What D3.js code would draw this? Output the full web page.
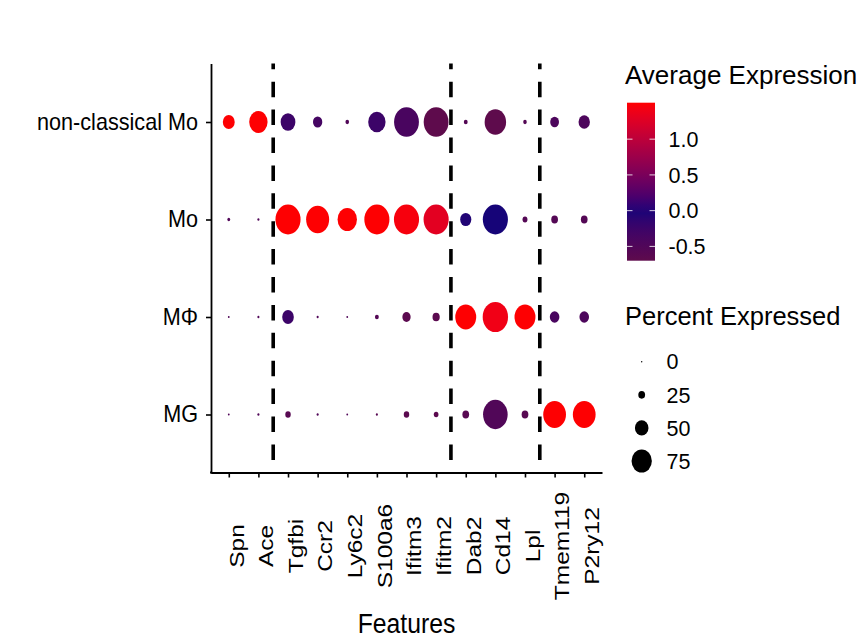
<!DOCTYPE html>
<html>
<head>
<meta charset="utf-8">
<script src="https://cdn.jsdelivr.net/npm/d3@7"></script>
<style>
  html, body { margin: 0; padding: 0; background: #ffffff; }
  svg { display: block; font-family: "Liberation Sans", Arial, Helvetica, sans-serif; }
</style>
</head>
<body>
<svg id="chart" width="860" height="640"></svg>
<script>
// ---------------- data ----------------
const genes = ["Spn","Ace","Tgfbi","Ccr2","Ly6c2","S100a6","Ifitm3","Ifitm2","Dab2","Cd14","Lpl","Tmem119","P2ry12"];
const cellTypes = ["non-classical Mo","Mo","MΦ","MG"];

// Percent expressed per cell type (same order as genes)
const pctNcMo = [46, 71, 57, 36, 14, 67, 96, 96, 15, 83, 14, 34, 44];
const pctMo   = [11,  8, 97, 89, 75, 97, 97, 97, 43, 97, 19, 26, 26];
const pctMPhi = [ 7,  8, 45,  8,  7, 15, 32, 28, 81, 98, 81, 37, 37];
const pctMG   = [ 7,  8, 21,  8,  7,  8, 21, 18, 26, 95, 26, 88, 88];

// Average expression (scaled) per cell type
const avgNcMo = [1.5, 1.5, -0.25, -0.35, -0.5, -0.25, -0.4, -0.7, -0.55, -0.7, -0.55, -0.45, -0.45];
const avgMo   = [-0.5, -0.5, 1.5, 1.5, 1.5, 1.5, 1.45, 1.3, -0.05, 0.0, -0.55, -0.55, -0.55];
const avgMPhi = [-0.5, -0.5, -0.25, -0.5, -0.5, -0.55, -0.65, -0.65, 1.5, 1.4, 1.5, -0.4, -0.45];
const avgMG   = [-0.5, -0.5, -0.6, -0.5, -0.5, -0.6, -0.65, -0.65, -0.6, -0.5, -0.6, 1.5, 1.5];

const pctByType = [pctNcMo, pctMo, pctMPhi, pctMG];
const avgByType = [avgNcMo, avgMo, avgMPhi, avgMG];

// group boundaries: dashed lines after these gene indices
const splitsAfter = [1, 7, 10];

const colorTicks = [-0.5, 0.0, 0.5, 1.0];
const colorTickLabels = ["-0.5", "0.0", "0.5", "1.0"];
const sizeBreaks = [0, 25, 50, 75];

// ---------------- build rows ----------------
const cells = [];
cellTypes.forEach((ct, i) => {
  genes.forEach((g, j) => {
    cells.push({ cell: ct, gene: g, pct: pctByType[i][j], avg: avgByType[i][j] });
  });
});

// ---------------- scales ----------------
const svg = d3.select("#chart");
const x = d3.scalePoint().domain(genes).range([211, 602]).padding(0.6);
const y = d3.scalePoint().domain(cellTypes).range([63.5, 473]).padding(0.6);

const avgMin = -0.7, avgMax = 1.51;
const color = d3.scaleLinear()
  .domain([avgMin, 0, avgMax])
  .range(["#5e0b4c", "#160478", "#ff0000"])
  .interpolate(d3.interpolateLab)
  .clamp(true);

const ry = d3.scaleLinear().domain([0, 100]).range([0, 15.4]);
const aspect = 0.84;
const radY = p => Math.max(ry(p), 1.0);

// ---------------- dashed separators ----------------
const step = x.step();
svg.append("g").selectAll("line")
  .data(splitsAfter)
  .join("line")
  .attr("x1", d => x(genes[d]) + step / 2)
  .attr("x2", d => x(genes[d]) + step / 2)
  .attr("y1", 63.5)
  .attr("y2", 472.5)
  .attr("stroke", "#000")
  .attr("stroke-width", 3.6)
  .attr("stroke-dasharray", "15.5,12.4")
  .attr("stroke-dashoffset", 9.7);

// ---------------- dots ----------------
svg.append("g").selectAll("ellipse")
  .data(cells)
  .join("ellipse")
  .attr("cx", d => x(d.gene))
  .attr("cy", d => y(d.cell))
  .attr("ry", d => radY(d.pct))
  .attr("rx", d => radY(d.pct) * aspect)
  .attr("fill", d => color(d.avg));

// ---------------- axes ----------------
const yAxis = d3.axisLeft(y).tickSize(5).tickSizeOuter(0).tickPadding(7);
const gy = svg.append("g").attr("transform", "translate(211,0)").call(yAxis);
gy.select(".domain").attr("stroke", "#000").attr("stroke-width", 1.8);
gy.selectAll(".tick line").attr("stroke", "#000").attr("stroke-width", 1.6);
gy.selectAll(".tick text")
  .attr("x", 0)
  .attr("font-size", 23)
  .attr("fill", "#000")
  .attr("font-family", "Liberation Sans, Arial, sans-serif")
  .attr("transform", "translate(-13,0) scale(0.94,1)");

const xAxis = d3.axisBottom(x).tickSize(5).tickSizeOuter(0).tickPadding(0);
const gx = svg.append("g").attr("transform", "translate(0,472.5)").call(xAxis);
gx.select(".domain").attr("stroke", "#000").attr("stroke-width", 1.8);
gx.selectAll(".tick line").attr("stroke", "#000").attr("stroke-width", 1.6);
gx.selectAll(".tick text")
  .attr("x", 0).attr("y", 0)
  .attr("dy", "0.72em")
  .attr("text-anchor", "middle")
  .attr("font-size", 24.5)
  .attr("fill", "#000")
  .attr("font-family", "Liberation Sans, Arial, sans-serif")
  .attr("transform", "translate(-0.5,73.5) rotate(-90) scale(1,0.84)");

// extend the axis corner
svg.append("line")
  .attr("x1", 210.1).attr("x2", 212).attr("y1", 472.5).attr("y2", 472.5)
  .attr("stroke", "#000").attr("stroke-width", 1.8);

svg.append("text")
  .attr("transform", "translate(406.5,633) scale(0.9,1)")
  .attr("text-anchor", "middle")
  .attr("font-size", 27.5)
  .attr("fill", "#000")
  .text("Features");

// ---------------- colour legend ----------------
const lg = svg.append("g");
lg.append("text")
  .attr("x", 625).attr("y", 83.5)
  .attr("font-size", 26)
  .attr("fill", "#000")
  .text("Average Expression");

const barTop = 102.7, barBottom = 260.7, barX = 627, barW = 28;
const cbY = d3.scaleLinear().domain([avgMin, avgMax]).range([barBottom, barTop]);

const defs = svg.append("defs");
const grad = defs.append("linearGradient")
  .attr("id", "cbar").attr("x1", 0).attr("x2", 0).attr("y1", 1).attr("y2", 0);
d3.range(0, 21).forEach(i => {
  const t = i / 20;
  grad.append("stop")
    .attr("offset", t)
    .attr("stop-color", color(avgMin + t * (avgMax - avgMin)));
});
lg.append("rect")
  .attr("x", barX).attr("y", barTop)
  .attr("width", barW).attr("height", barBottom - barTop)
  .attr("fill", "url(#cbar)");

const tk = lg.append("g").selectAll("g").data(colorTicks).join("g");
tk.append("line")
  .attr("x1", barX).attr("x2", barX + 5.5)
  .attr("y1", d => cbY(d)).attr("y2", d => cbY(d))
  .attr("stroke", "#ffffff").attr("stroke-opacity", 0.8).attr("stroke-width", 1);
tk.append("line")
  .attr("x1", barX + barW - 5.5).attr("x2", barX + barW)
  .attr("y1", d => cbY(d)).attr("y2", d => cbY(d))
  .attr("stroke", "#ffffff").attr("stroke-opacity", 0.8).attr("stroke-width", 1);
tk.append("text")
  .attr("x", 668.5)
  .attr("y", d => cbY(d))
  .attr("dy", "0.36em")
  .attr("font-size", 21.5)
  .attr("fill", "#000")
  .text((d, i) => colorTickLabels[i]);

// ---------------- size legend ----------------
const sg = svg.append("g");
sg.append("text")
  .attr("x", 625).attr("y", 325)
  .attr("font-size", 25.5)
  .attr("fill", "#000")
  .text("Percent Expressed");

const sizeY = d3.scalePoint().domain(sizeBreaks).range([361.7, 461]);
const si = sg.selectAll("g.item").data(sizeBreaks).join("g").attr("class", "item");
si.append("ellipse")
  .attr("cx", 641.7)
  .attr("cy", d => sizeY(d))
  .attr("ry", d => Math.max(ry(d), 0.8))
  .attr("rx", d => Math.max(ry(d), 0.8) * 0.88)
  .attr("fill", "#000");
si.append("text")
  .attr("x", 666.5)
  .attr("y", d => sizeY(d))
  .attr("dy", "0.36em")
  .attr("font-size", 21.5)
  .attr("fill", "#000")
  .text(d => d);
</script>
</body>
</html>
